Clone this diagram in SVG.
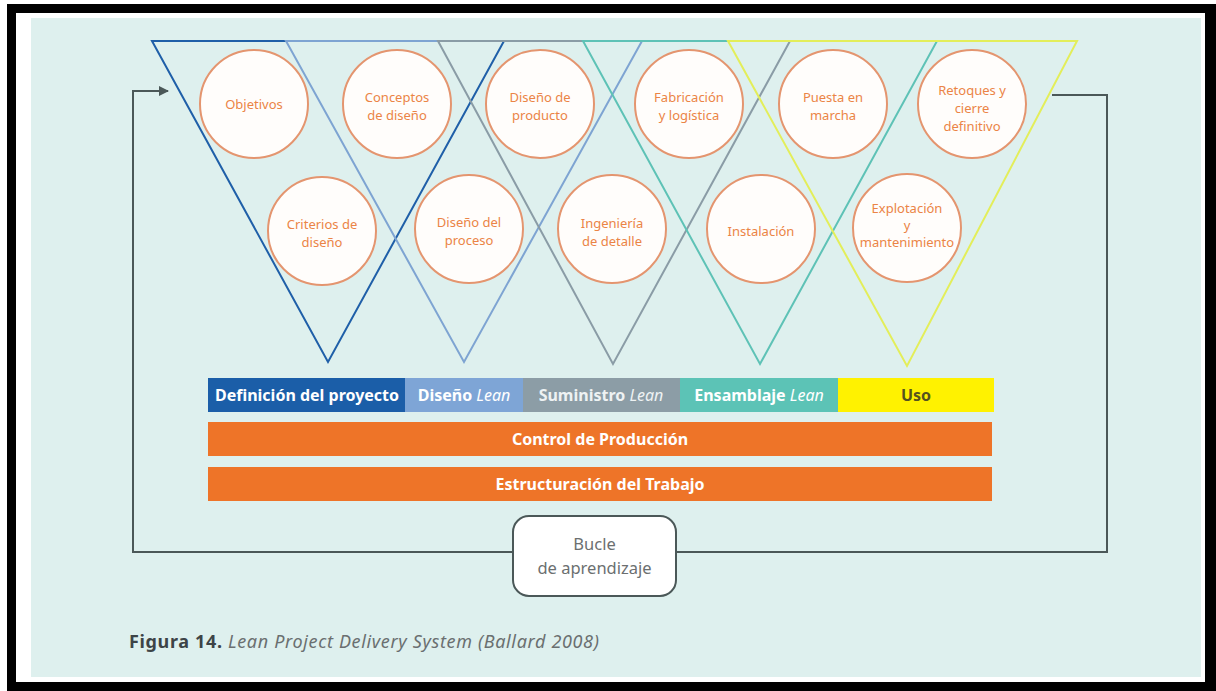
<svg xmlns="http://www.w3.org/2000/svg" width="1216" height="691" viewBox="0 0 1216 691">
  <defs>
    <marker id="arrow" viewBox="0 0 10 10" refX="9" refY="5" markerWidth="10" markerHeight="10" markerUnits="userSpaceOnUse" orient="auto">
      <path d="M0,0 L10,5 L0,10 Z" fill="#4b5858"/>
    </marker>
    <style>
      .tri { fill: none; stroke-width: 2; stroke-linejoin: miter; }
      .node circle { fill: #fffdfb; stroke: #e4956f; stroke-width: 2; }
      .node text { font-family: "Noto Sans", "Open Sans", sans-serif; font-size: 13px; fill: #eb8446; text-anchor: middle; }
      .bar text { font-family: "Noto Sans", "Open Sans", sans-serif; font-size: 16px; font-weight: bold; fill: #ffffff; text-anchor: middle; }
      .bar text.soft { fill: #eef2f3; }
      .bar text.dark { fill: #55531f; }
      .bar .it { font-style: italic; font-weight: normal; }
      .loop { fill: none; stroke: #4b5858; stroke-width: 2; }
      .box rect { fill: #ffffff; stroke: #4b5858; stroke-width: 2; }
      .box text { font-family: "Noto Sans", "Open Sans", sans-serif; font-size: 16.5px; fill: #6b6f70; text-anchor: middle; }
      .caption { font-family: "Noto Sans", "Open Sans", sans-serif; font-size: 18px; letter-spacing: 0.65px; }
    </style>
  </defs>

  <!-- frame and panel -->
  <rect x="0" y="0" width="1216" height="691" fill="#ffffff"/>
  <rect x="7" y="4" width="1209" height="687" fill="#000000"/>
  <rect x="16" y="13" width="1189" height="669" fill="#ffffff"/>
  <rect x="31" y="18" width="1170" height="659" fill="#def0ee"/>

  <!-- phase triangles -->
  <g id="triangles">
    <polygon class="tri" points="152,41 504,41 328,362" stroke="#1f5fa8"/>
    <polygon class="tri" points="286,41 642,41 464,362" stroke="#7ea4d2"/>
    <polygon class="tri" points="438,41 790,41 613,364" stroke="#8a9ca6"/>
    <polygon class="tri" points="583,41 937,41 760,364" stroke="#5ec2b6"/>
    <polygon class="tri" points="728,41 1077,41 907,366" stroke="#e3ee5a" stroke-width="3"/>
  </g>

  <!-- feedback loop -->
  <g id="connectors">
    <path class="loop" d="M513,552 H133 V91 H168" marker-end="url(#arrow)"/>
    <path class="loop" d="M676,552 H1107 V95 H1052"/>
  </g>

  <!-- activity circles -->
  <g id="objetivos" class="node">
    <circle cx="254" cy="104" r="54"/>
    <text x="254" y="109">Objetivos</text>
  </g>
  <g id="conceptos" class="node">
    <circle cx="397" cy="104" r="54"/>
    <text x="397" y="101.5">Conceptos</text>
    <text x="397" y="119.5">de diseño</text>
  </g>
  <g id="diseno-producto" class="node">
    <circle cx="540" cy="104" r="54"/>
    <text x="540" y="101.5">Diseño de</text>
    <text x="540" y="119.5">producto</text>
  </g>
  <g id="fabricacion" class="node">
    <circle cx="689" cy="104" r="54"/>
    <text x="689" y="101.5">Fabricación</text>
    <text x="689" y="119.5">y logística</text>
  </g>
  <g id="puesta" class="node">
    <circle cx="833" cy="104" r="54"/>
    <text x="833" y="101.5">Puesta en</text>
    <text x="833" y="119.5">marcha</text>
  </g>
  <g id="retoques" class="node">
    <circle cx="972" cy="104" r="54"/>
    <text x="972" y="94.5">Retoques y</text>
    <text x="972" y="112.5">cierre</text>
    <text x="972" y="130.5">definitivo</text>
  </g>
  <g id="criterios" class="node">
    <circle cx="322" cy="231" r="54"/>
    <text x="322" y="229">Criterios de</text>
    <text x="322" y="247">diseño</text>
  </g>
  <g id="diseno-proceso" class="node">
    <circle cx="469" cy="229" r="54"/>
    <text x="469" y="226.5">Diseño del</text>
    <text x="469" y="244.5">proceso</text>
  </g>
  <g id="ingenieria" class="node">
    <circle cx="612" cy="229" r="54"/>
    <text x="612" y="227.5">Ingeniería</text>
    <text x="612" y="245.5">de detalle</text>
  </g>
  <g id="instalacion" class="node">
    <circle cx="761" cy="229" r="54"/>
    <text x="761" y="236">Instalación</text>
  </g>
  <g id="explotacion" class="node">
    <circle cx="907" cy="228" r="54"/>
    <text x="907" y="212.5">Explotación</text>
    <text x="907" y="229.5">y</text>
    <text x="907" y="246.5">mantenimiento</text>
  </g>

  <!-- phase bar -->
  <g id="fases" class="bar">
    <rect x="208" y="378" width="197" height="34" fill="#1b5ea8"/>
    <rect x="405" y="378" width="118" height="34" fill="#7ea5d6"/>
    <rect x="523" y="378" width="157" height="34" fill="#8c9da6"/>
    <rect x="680" y="378" width="158" height="34" fill="#5cc3b6"/>
    <rect x="838" y="378" width="156" height="34" fill="#fff200"/>
    <text x="307" y="400.5">Definición del proyecto</text>
    <text x="464" y="400.5">Diseño <tspan class="it">Lean</tspan></text>
    <text class="soft" x="601" y="400.5">Suministro <tspan class="it">Lean</tspan></text>
    <text x="759" y="400.5">Ensamblaje <tspan class="it">Lean</tspan></text>
    <text class="dark" x="916" y="400.5">Uso</text>
  </g>
  <g id="control" class="bar">
    <rect x="208" y="422" width="784" height="34" fill="#ee7428"/>
    <text x="600" y="444.5">Control de Producción</text>
  </g>
  <g id="estructuracion" class="bar">
    <rect x="208" y="467" width="784" height="34" fill="#ee7428"/>
    <text x="600" y="489.5">Estructuración del Trabajo</text>
  </g>

  <!-- learning loop label -->
  <g id="bucle" class="box">
    <rect x="513" y="516" width="163" height="80" rx="16"/>
    <text x="594.5" y="550">Bucle</text>
    <text x="594.5" y="574">de aprendizaje</text>
  </g>

  <!-- caption -->
  <text class="caption" x="129" y="648"><tspan font-weight="bold" fill="#3d4447">Figura 14.</tspan><tspan font-style="italic" fill="#6a6f70"> Lean Project Delivery System (Ballard 2008)</tspan></text>
</svg>
